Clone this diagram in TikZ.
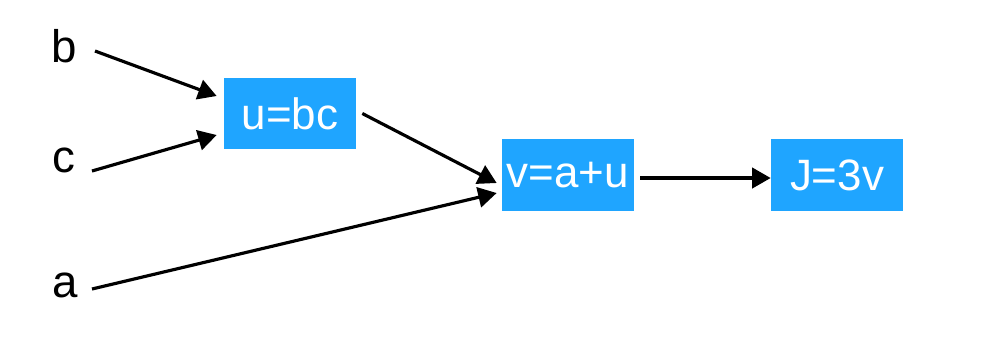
\documentclass[tikz,border=0pt]{standalone}
\usepackage{fontspec}
\setmainfont{Liberation Sans}
\usetikzlibrary{arrows.meta,calc}
\definecolor{boxblue}{RGB}{31,165,255}

\begin{document}
\begin{tikzpicture}[
  x = 0.02cm, y = -0.02cm,
  var/.style  = {font=\fontsize{26}{30}\selectfont, inner sep=0pt, anchor=base},
  op/.style   = {fill=boxblue, text=white, font=\fontsize{25}{30}\selectfont,
                 inner sep=0pt, minimum width=2.64cm, minimum height=1.43cm},
  link/.style = {draw, line width=1.8pt, -{Triangle[length=10.5pt,width=11.5pt]}},
]

\path[use as bounding box] (0,0) rectangle (982,346);

\node[var] (b) at (64, 62)  {b};
\node[var] (c) at (64, 172) {c};
\node[var] (a) at (65, 297) {a};

\node[op] (u) at (290, 113.5) {u=bc};
\node[op] (v) at (568, 175)   {v=a+u};
\node[op] (J) at (837, 175)   {J=3v};

\draw[link] ($(b.base)+(31,-11)$) -- ($(u.west)+(-7,-17.5)$);
\draw[link] ($(c.base)+(28,-1)$)  -- ($(u.west)+(-7,21.5)$);
\draw[link] ($(a.base)+(27,-8)$)  -- ($(v.west)+(-5,18)$);
\draw[link] ($(u.east)+(6,0)$)    -- ($(v.west)+(-5,8)$);
\draw[link] ($(v.east)+(6,3)$)    -- ($(J.west)+(0,3)$);

\end{tikzpicture}
\end{document}
